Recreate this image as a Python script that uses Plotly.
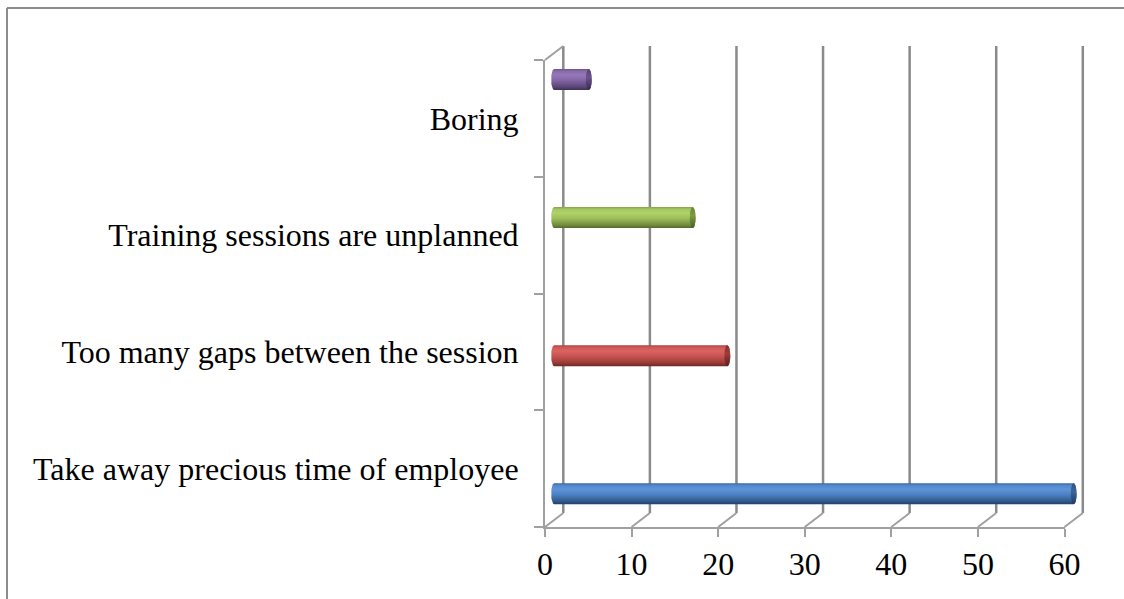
import numpy as np
import plotly.graph_objects as go

# ---- data ----
categories = [
    "Take away precious time of employee",
    "Too many gaps between the session",
    "Training sessions are unplanned",
    "Boring",
]
values = [60, 20, 16, 4]
x_ticks = [0, 10, 20, 30, 40, 50, 60]

# cylinder shading, bottom -> top
bar_shades = [
    [[0, "#213f66"], [0.15, "#31598c"], [0.45, "#4b80c2"], [0.72, "#5e95d8"], [0.9, "#5288cb"], [1, "#3a659e"]],
    [[0, "#6e2523"], [0.15, "#963a37"], [0.45, "#c4524f"], [0.72, "#da6460"], [0.9, "#cd5955"], [1, "#a84340"]],
    [[0, "#55692d"], [0.15, "#728c3e"], [0.45, "#9cbd59"], [0.72, "#b0d26a"], [0.9, "#a5c662"], [1, "#86a34a"]],
    [[0, "#3f2f55"], [0.15, "#5a4677"], [0.45, "#8164a3"], [0.72, "#9478b8"], [0.9, "#876aab"], [1, "#6b5390"]],
]
cap_shades = [
    [[0, "#1f3b60"], [0.6, "#3b6598"], [1, "#2f5280"]],
    [[0, "#5e1f1d"], [0.6, "#9b3d3a"], [1, "#84302e"]],
    [[0, "#4b5d27"], [0.6, "#7d9c43"], [1, "#6a853a"]],
    [[0, "#36284a"], [0.6, "#6a528c"], [1, "#584477"]],
]

# ---- geometry of the canvas (pixels) ----
W, H = 1124, 599
FRONT_X0, FRONT_X1 = 545.0, 1064.5      # front axis: 0 .. 60
FRONT_TOP, FRONT_BOT = 60.0, 527.0       # front-left wall
DX, DY = 18.3, 14.0                      # depth offset of the back wall
XMAX = x_ticks[-1]
GRID_COL = "#8a8a8a"
AXIS_COL = "#a0a0a0"
FONT = "Liberation Serif, Times New Roman, serif"
FONT_SIZE = 32


def px(x):
    return x / W


def py(y):
    return (H - y) / H


def front_x(v):
    return FRONT_X0 + v * (FRONT_X1 - FRONT_X0) / XMAX


fig = go.Figure()

# invisible trace so the category axis shows its labels
fig.add_trace(go.Scatter(x=[0] * len(categories), y=categories, mode="markers",
                         marker=dict(opacity=0), hoverinfo="skip", showlegend=False,
                         xaxis="x", yaxis="y"))

# cylinders, drawn half way into the depth of the chart
pxu = (FRONT_X1 - FRONT_X0) / XMAX        # pixels per unit
rx = 3.0 / pxu                            # end-cap horizontal radius (data units)
row_px = 138.1                            # pixels between cylinders
ry = 10.5 / row_px                        # cylinder half thickness (data units)

for i, (v, shade, cap) in enumerate(zip(values, bar_shades, cap_shades)):
    yc = i
    t_left = np.linspace(np.pi / 2, 3 * np.pi / 2, 30)
    t_right = np.linspace(-np.pi / 2, np.pi / 2, 30)
    bx = np.concatenate([rx * np.cos(t_left), v + rx * np.cos(t_right)])
    by = np.concatenate([yc + ry * np.sin(t_left), yc + ry * np.sin(t_right)])
    bx = np.append(bx, bx[0])
    by = np.append(by, by[0])
    fig.add_trace(go.Scatter(
        x=bx, y=by, mode="lines", fill="toself", line=dict(width=0),
        fillgradient=dict(type="vertical", colorscale=shade),
        hoverinfo="skip", showlegend=False, xaxis="x2", yaxis="y2"))
    t = np.linspace(0, 2 * np.pi, 60)
    fig.add_trace(go.Scatter(
        x=v + rx * np.cos(t), y=yc + ry * np.sin(t), mode="lines", fill="toself",
        line=dict(width=0), fillgradient=dict(type="vertical", colorscale=cap),
        hoverinfo="skip", showlegend=False, xaxis="x2", yaxis="y2"))

shapes = []
# back wall gridlines and the floor diagonals
for v in x_ticks:
    xb = front_x(v) + DX
    shapes.append(dict(type="line", xref="paper", yref="paper",
                       x0=px(xb), x1=px(xb), y0=py(FRONT_BOT - DY), y1=py(FRONT_TOP - DY),
                       line=dict(color=GRID_COL, width=2.5), layer="below"))
    shapes.append(dict(type="line", xref="paper", yref="paper",
                       x0=px(front_x(v)), x1=px(xb), y0=py(FRONT_BOT), y1=py(FRONT_BOT - DY),
                       line=dict(color=AXIS_COL, width=2), layer="below"))
# top edge of the side wall
shapes.append(dict(type="line", xref="paper", yref="paper",
                   x0=px(FRONT_X0), x1=px(FRONT_X0 + DX), y0=py(FRONT_TOP), y1=py(FRONT_TOP - DY),
                   line=dict(color=AXIS_COL, width=2), layer="below"))
# chart frame
shapes.append(dict(type="line", xref="paper", yref="paper",
                   x0=px(7), x1=1, y0=py(8), y1=py(8),
                   line=dict(color="#8c8c8c", width=2)))
shapes.append(dict(type="line", xref="paper", yref="paper",
                   x0=px(7), x1=px(7), y0=py(8), y1=0,
                   line=dict(color="#8c8c8c", width=2)))

# cylinder axes: 0 at mid depth, rows 138 px apart
x2_lo, x2_hi = -1.0, XMAX + 1.0
x2_left = FRONT_X0 + DX / 2 + x2_lo * pxu
x2_right = FRONT_X0 + DX / 2 + x2_hi * pxu
y_row0 = 493.8
y2_lo, y2_hi = -0.5, 3.5
y2_bot = y_row0 - y2_lo * row_px
y2_top = y_row0 - y2_hi * row_px

fig.update_layout(
    template="none",
    width=W, height=H,
    autosize=False,
    margin=dict(l=0, r=0, t=0, b=0, pad=0),
    paper_bgcolor="white", plot_bgcolor="rgba(0,0,0,0)",
    showlegend=False,
    font=dict(family=FONT, color="black"),
    shapes=shapes,
    xaxis=dict(domain=[px(FRONT_X0), px(FRONT_X1)], range=[0, XMAX],
               tickvals=x_ticks, ticktext=[str(v) for v in x_ticks],
               showgrid=False, zeroline=False, showline=True, automargin=False,
               linecolor=AXIS_COL, linewidth=2, ticks="outside", ticklen=8,
               tickwidth=2, tickcolor=AXIS_COL,
               tickfont=dict(size=FONT_SIZE, family=FONT, color="black"),
               anchor="y", fixedrange=True),
    yaxis=dict(domain=[py(FRONT_BOT), py(FRONT_TOP)], type="category",
               categoryorder="array", categoryarray=categories, range=[-0.5, 3.5],
               tickson="boundaries", ticks="outside", ticklen=9, tickwidth=2,
               tickcolor=AXIS_COL, showline=True, linecolor=AXIS_COL, linewidth=2,
               showgrid=False, zeroline=False, ticklabelstandoff=18, automargin=False,
               tickfont=dict(size=FONT_SIZE, family=FONT, color="black"),
               anchor="x", fixedrange=True),
    xaxis2=dict(domain=[px(x2_left), px(x2_right)], range=[x2_lo, x2_hi],
                visible=False, anchor="y2", fixedrange=True, automargin=False),
    yaxis2=dict(domain=[py(y2_bot), py(y2_top)], range=[y2_lo, y2_hi],
                visible=False, anchor="x2", fixedrange=True, automargin=False),
)

fig.write_html("out.html")
